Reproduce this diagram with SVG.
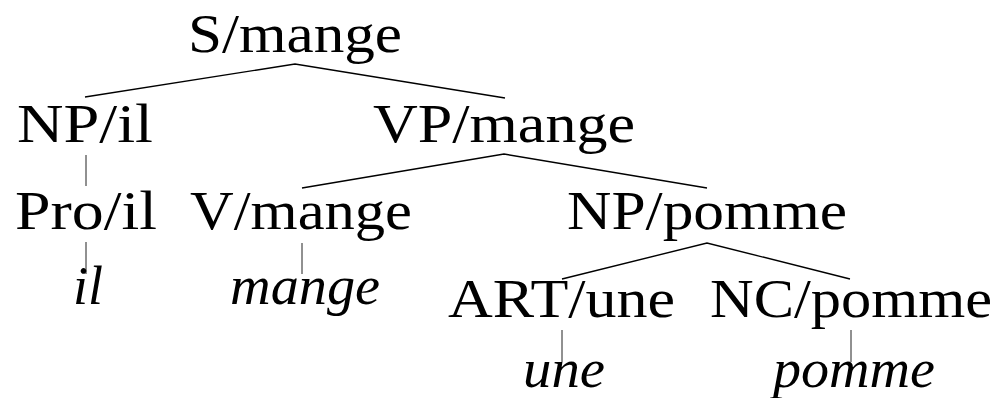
<svg xmlns="http://www.w3.org/2000/svg" width="997" height="398" viewBox="0 0 997 398">
<style>
text{font-family:"Liberation Serif","Times New Roman",serif;font-size:54px;fill:#000}
.it{font-style:italic}
.edge{stroke:#000;stroke-width:1.4;fill:none}
.leaf{stroke:#222;stroke-width:1;fill:none}
</style>
<rect width="997" height="398" fill="#fff"/>
<g id="connectors">
<polyline class="edge" points="85,97 295,64 505,98"/>
<line class="leaf" x1="86" y1="155" x2="86" y2="186"/>
<polyline class="edge" points="302,188 504,154 707,188"/>
<line class="leaf" x1="86" y1="242" x2="86" y2="274"/>
<line class="leaf" x1="302" y1="243" x2="302" y2="274"/>
<polyline class="edge" points="562,279 707,243 850,279"/>
<line class="leaf" x1="562" y1="330" x2="562" y2="362"/>
<line class="leaf" x1="851" y1="330" x2="851" y2="362"/>
</g>
<g id="S"><text x="188" y="52" textLength="214" lengthAdjust="spacingAndGlyphs">S/mange</text></g>
<g id="NP_il"><text x="17" y="142" textLength="136" lengthAdjust="spacingAndGlyphs">NP/il</text></g>
<g id="VP"><text x="373" y="142" textLength="262" lengthAdjust="spacingAndGlyphs">VP/mange</text></g>
<g id="Pro"><text x="15" y="229" textLength="142" lengthAdjust="spacingAndGlyphs">Pro/il</text></g>
<g id="V"><text x="190" y="229" textLength="222" lengthAdjust="spacingAndGlyphs">V/mange</text></g>
<g id="NP_pomme"><text x="567" y="229" textLength="280" lengthAdjust="spacingAndGlyphs">NP/pomme</text></g>
<g id="w_il"><text class="it" x="73" y="304" textLength="30" lengthAdjust="spacingAndGlyphs">il</text></g>
<g id="w_mange"><text class="it" x="230" y="304" textLength="150" lengthAdjust="spacingAndGlyphs">mange</text></g>
<g id="ART"><text x="448" y="317" textLength="227" lengthAdjust="spacingAndGlyphs">ART/une</text></g>
<g id="NC"><text x="710" y="317" textLength="282" lengthAdjust="spacingAndGlyphs">NC/pomme</text></g>
<g id="w_une"><text class="it" x="523" y="387" textLength="82" lengthAdjust="spacingAndGlyphs">une</text></g>
<g id="w_pomme"><text class="it" x="773" y="387" textLength="162" lengthAdjust="spacingAndGlyphs">pomme</text></g>
</svg>
